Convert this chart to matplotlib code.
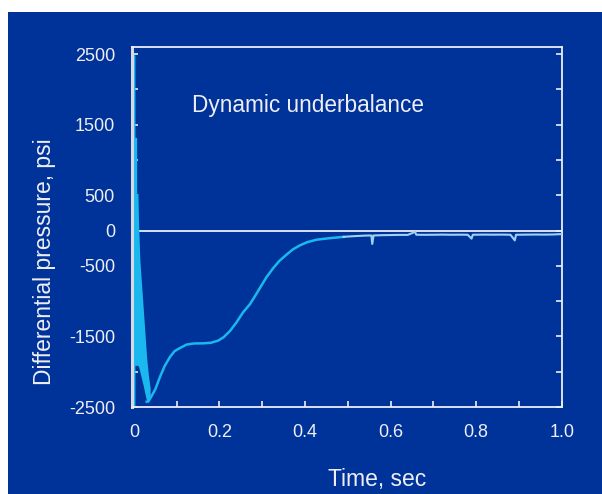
import numpy as np
import matplotlib
matplotlib.use("Agg")
import matplotlib.pyplot as plt
from matplotlib.patches import Rectangle

plt.rcParams['font.family'] = ['Liberation Sans', 'DejaVu Sans']

# early oscillation envelope (dense ringing right after the shot)
env_t = [-0.003, 0.0025, 0.0026, 0.0065, 0.0066, 0.0095, 0.011, 0.014, 0.022, 0.030, 0.034, 0.038]
env_hi = [2490, 2490, 1320, 1320, 524, 524, 100, -410, -1110, -1810, -2050, -2230]
env_lo = [-2500, -2500, -1910, -1910, -1910, -1910, -1930, -2000, -2200, -2425, -2430, -2330]

# main recovery curve
main_t = [0.030, 0.034, 0.040, 0.050, 0.061, 0.072, 0.084, 0.095, 0.104, 0.123, 0.140, 0.162,
          0.180, 0.197, 0.210, 0.225, 0.240, 0.255, 0.271, 0.283, 0.295, 0.310, 0.326,
          0.340, 0.357, 0.372, 0.388, 0.405, 0.427, 0.455, 0.482, 0.490]
main_p = [-2425, -2420, -2360, -2250, -2075, -1920, -1795, -1710, -1677, -1616, -1600, -1598,
          -1590, -1560, -1510, -1420, -1300, -1160, -1045, -930, -810, -660, -530,
          -430, -340, -265, -210, -165, -130, -110, -94, -90]

# late tail with small spikes
tail_t = [0.490, 0.500, 0.520, 0.540, 0.555, 0.557, 0.560, 0.580, 0.600, 0.620, 0.640,
          0.657, 0.660, 0.680, 0.700, 0.720, 0.740, 0.760, 0.780, 0.789, 0.792, 0.820,
          0.840, 0.860, 0.880, 0.890, 0.893, 0.920, 0.940, 0.960, 0.980, 1.000]
tail_p = [-90, -85, -78, -72, -70, -190, -70, -66, -64, -62, -62,
          -20, -60, -61, -60, -58, -60, -59, -60, -115, -60, -58,
          -59, -58, -60, -140, -60, -58, -57, -58, -56, -50]

yticks = [-2500, -2000, -1500, -1000, -500, 0, 500, 1000, 1500, 2000, 2500]
ytick_labels = ['-2500', '', '-1500', '', '-500', '0', '500', '', '1500', '', '2500']
xticks = [0.0, 0.1, 0.2, 0.3, 0.4, 0.5, 0.6, 0.7, 0.8, 0.9, 1.0]
xtick_labels = ['0', '', '0.2', '', '0.4', '', '0.6', '', '0.8', '', '1.0']

bg = '#003399'
cyan = '#1ab8ee'
fg = '#eeeef4'

fig = plt.figure(figsize=(6.02, 4.94), dpi=100)
fig.patch.set_facecolor('white')
fig.patches.append(Rectangle((8 / 602, 0), 1, (494 - 12) / 494, transform=fig.transFigure,
                             facecolor=bg, edgecolor='none', zorder=-1))

ax = fig.add_axes([0.2188, 0.1761, 0.7145, 0.7288])
ax.set_facecolor(bg)

ax.axhline(0, color=fg, lw=1.3, zorder=1)
ax.fill_between(env_t, env_lo, env_hi, color=cyan, lw=0, zorder=2)
ax.plot(main_t, main_p, color=cyan, lw=1.8, zorder=3)
ax.plot(tail_t, tail_p, color='#9fd0f2', lw=1.5, zorder=3)

ax.set_xlim(-0.005, 1.0)
ax.set_ylim(-2500, 2600)
ax.set_xticks(xticks)
ax.set_xticklabels(xtick_labels)
ax.set_yticks(yticks)
ax.set_yticklabels(ytick_labels)

for s in ax.spines.values():
    s.set_color(fg)
    s.set_linewidth(1.3)
ax.spines['left'].set_linewidth(2.2)
ax.spines['left'].set_color('#d8d8e0')

ax.tick_params(axis='both', direction='in', colors=fg, labelcolor=fg, labelsize=13,
               length=4, width=1.2)
ax.tick_params(axis='y', right=True, pad=12)
ax.tick_params(axis='x', pad=12)

ax.text(0.136, 1770, 'Dynamic underbalance', color=fg, fontsize=16.3, va='center', ha='left')

ax.set_xlabel('Time, sec', color=fg, fontsize=16.5)
ax.xaxis.set_label_coords(0.57, -0.17)
ax.set_ylabel('Differential pressure, psi', color=fg, fontsize=16.5)
ax.yaxis.set_label_coords(-0.175, 0.405)

fig.savefig('out.png', dpi=100, facecolor=fig.get_facecolor())
